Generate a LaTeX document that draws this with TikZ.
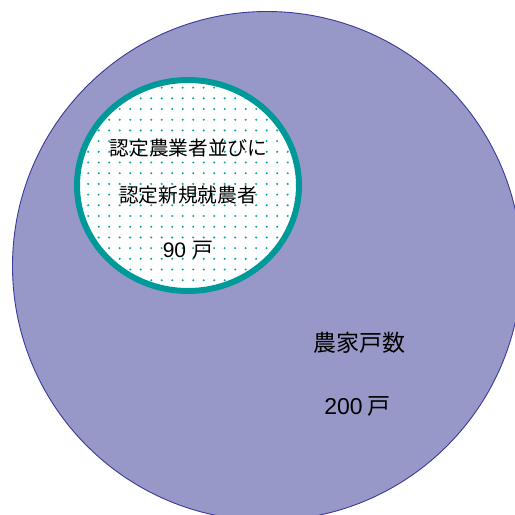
\documentclass[tikz,border=0pt]{standalone}
\usepackage{fontspec}
\setmainfont{Liberation Sans}
\newfontfamily\jpfont{Noto Sans CJK JP}
\definecolor{bigfill}{RGB}{152,152,200}
\definecolor{bigline}{RGB}{58,58,154}
\definecolor{ring}{RGB}{0,153,153}
\definecolor{dotc}{RGB}{20,165,165}
\tikzset{
  bigcirc/.style={fill=bigfill, draw=bigline, line width=0.9pt},
  ringcirc/.style={draw=ring, line width=6pt},
  smalltext/.style={inner sep=0pt, font=\fontsize{19.7}{23}\selectfont\jpfont},
  bigtextstyle/.style={inner sep=0pt, font=\fontsize{23}{27}\selectfont\jpfont},
}
\begin{document}
\begin{tikzpicture}[x=1pt,y=-1pt]
\useasboundingbox (0,0) rectangle (515,515);
\clip (0,0) rectangle (515,515);
% big circle
\path[bigcirc] (267,266) circle [radius=254.5];
% small circle
\fill[white] (188,185.5) ellipse [x radius=111, y radius=105.5];
\begin{scope}
  \clip (188,185.5) ellipse [x radius=111, y radius=105.5];
  \foreach \i in {-7,...,16} {
    \foreach \j in {-3,...,19} {
      \fill[dotc] (140.7+\i*10.5, 98.3+\j*10.7) circle [radius=1.15];
    }
  }
\end{scope}
\path[ringcirc] (188,185.5) ellipse [x radius=111, y radius=105.5];
% texts
\node[smalltext] (l1) at (188.5,148) {認定農業者並びに};
\node[smalltext] (l2) at (188,195) {認定新規就農者};
\node[inner sep=0pt] (l3) at (188,250) {\fontsize{21}{24}\selectfont 90\hspace{6pt}{\jpfont 戸}};
\node[bigtextstyle] (b1) at (359.5,343) {農家戸数};
\node[inner sep=0pt] (b2) at (357.5,406) {\fontsize{23}{27}\selectfont 200\hspace{5pt}{\jpfont 戸}};
\end{tikzpicture}
\end{document}
